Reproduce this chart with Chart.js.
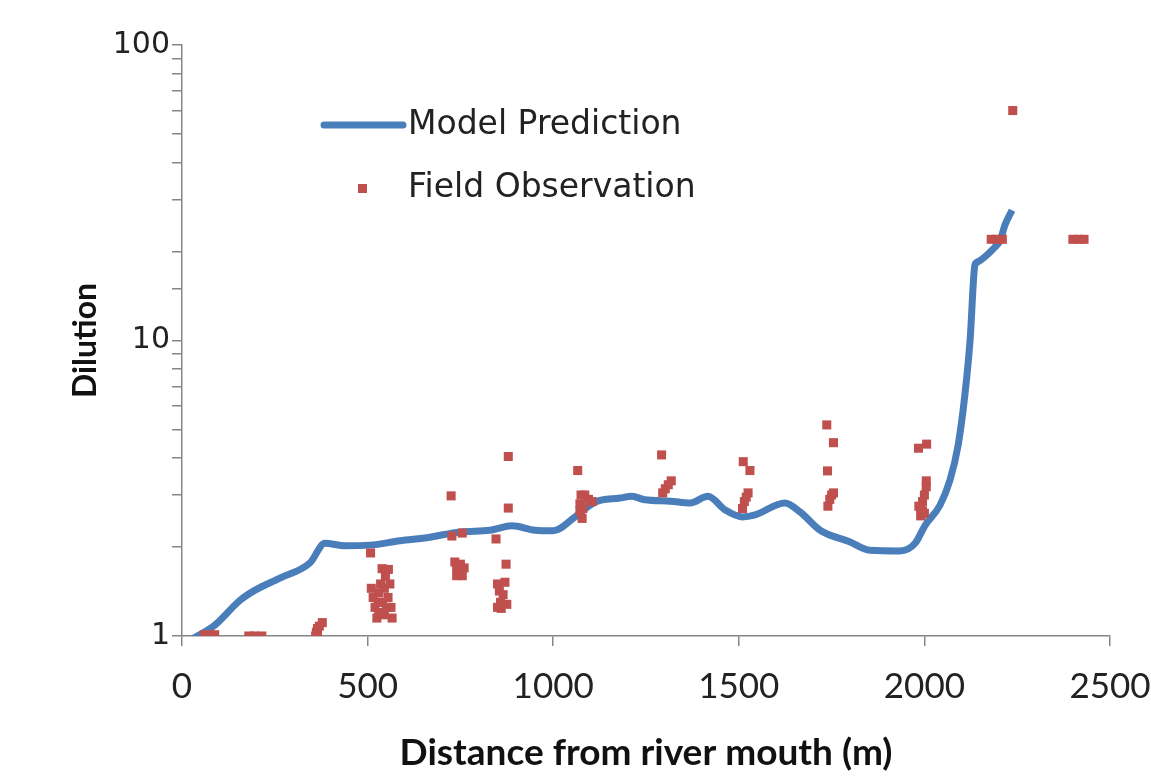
<!DOCTYPE html>
<html>
<head>
<meta charset="utf-8">
<script src="https://cdn.jsdelivr.net/npm/chart.js@4.4.1/dist/chart.umd.min.js"></script>
<style>
  html, body { margin: 0; padding: 0; background: #fff; }
  #wrap { width: 1151px; height: 778px; }
</style>
</head>
<body>
<div id="wrap"><canvas id="chart" width="1151" height="778"></canvas></div>
<script>
// Model prediction (distance m, dilution)
const modelX = [30, 89, 156, 197, 264, 345, 385, 439, 506, 587, 668, 749, 830, 889, 951, 1000,
    1059, 1113, 1180, 1212, 1247, 1315, 1369, 1417, 1463, 1509, 1544, 1624, 1665, 1719, 1800,
    1853, 1934, 1975, 2002, 2042, 2069, 2091, 2109, 2123, 2136, 2142, 2190, 2204, 2217, 2236];
const modelY = [0.98, 1.09, 1.32, 1.43, 1.57, 1.77, 2.06, 2.02, 2.03, 2.10, 2.16, 2.25, 2.28, 2.36, 2.28, 2.27,
    2.53, 2.84, 2.93, 2.97, 2.89, 2.86, 2.82, 2.97, 2.67, 2.53, 2.57, 2.82, 2.63, 2.28, 2.08,
    1.95, 1.94, 2.06, 2.37, 2.77, 3.37, 4.43, 6.54, 10.0, 18.0, 18.4, 20.7, 21.8, 24.6, 27.6];

// Field observations
const obsX = [60, 75, 88, 180, 195, 215, 360, 362, 365, 370, 378, 365,
    508, 510, 515, 520, 525, 530, 530, 535, 540, 545, 548, 550, 555, 556, 560, 563, 566, 545, 528, 539,
    725, 727, 755, 735, 740, 745, 750, 755, 760, 740,
    879, 879, 846, 873, 850, 870, 855, 865, 858, 875, 860, 850,
    1066, 1075, 1085, 1095, 1105, 1072, 1072, 1078, 1080,
    1292, 1295, 1302, 1310, 1318,
    1512, 1530, 1510, 1515, 1520, 1525,
    1737, 1755, 1739, 1740, 1745, 1750, 1755,
    1984, 2006, 1990, 1990, 1995, 2000, 2005, 2005, 2000, 1985, 1995,
    2238, 2180, 2195, 2210, 2400, 2415, 2430];
const obsY = [1.01, 1.01, 1.01, 1.0, 1.0, 1.0, 1.0, 1.03, 1.06, 1.08, 1.11, 1.01,
    1.91, 1.45, 1.35, 1.25, 1.15, 1.2, 1.4, 1.5, 1.3, 1.45, 1.6, 1.25, 1.35, 1.68, 1.5, 1.25, 1.15, 1.18, 1.3, 1.69,
    2.98, 2.18, 2.23, 1.78, 1.7, 1.65, 1.75, 1.6, 1.7, 1.6,
    4.05, 2.71, 2.13, 1.75, 1.5, 1.52, 1.42, 1.38, 1.3, 1.28, 1.24, 1.25,
    3.63, 3.0, 3.0, 2.9, 2.85, 2.8, 2.65, 2.5, 2.7,
    4.1, 3.05, 3.15, 3.25, 3.35,
    3.89, 3.63, 2.7, 2.85, 2.95, 3.05,
    5.18, 4.51, 3.62, 2.75, 2.9, 3.0, 3.05,
    4.32, 4.46, 2.55, 2.7, 2.85, 3.0, 3.2, 3.35, 2.6, 2.75, 2.65,
    60, 22, 22, 22, 22, 22, 22];

const xTicks = [0, 500, 1000, 1500, 2000, 2500];
const yLabels = [1, 10, 100];

const lineColor = '#4A7EBB';
const markColor = '#C0504D';
const axisColor = '#868686';

// Legend drawn inside the plot like the original
const insideLegend = {
    id: 'insideLegend',
    afterDraw(chart) {
        const ctx = chart.ctx;
        ctx.save();
        ctx.strokeStyle = lineColor;
        ctx.lineWidth = 7;
        ctx.lineCap = 'round';
        ctx.beginPath();
        ctx.moveTo(324, 125);
        ctx.lineTo(403, 125);
        ctx.stroke();
        ctx.fillStyle = markColor;
        ctx.fillRect(358, 184, 9, 9);
        ctx.fillStyle = '#222';
        ctx.font = '33px "DejaVu Sans"';
        ctx.textBaseline = 'middle';
        ctx.fillText(chart.data.datasets[0].label, 408, 125);
        ctx.fillText(chart.data.datasets[1].label, 408, 188);
        ctx.restore();
    }
};

new Chart(document.getElementById('chart'), {
    type: 'scatter',
    data: {
        datasets: [{
            label: 'Model Prediction',
            data: modelX.map((x, i) => ({ x: x, y: modelY[i] })),
            showLine: true,
            borderColor: lineColor,
            borderWidth: 7,
            pointRadius: 0,
            cubicInterpolationMode: 'monotone',
            order: 2
        }, {
            label: 'Field Observation',
            data: obsX.map((x, i) => ({ x: x, y: obsY[i] })),
            pointStyle: 'rect',
            pointRadius: 6.4,
            backgroundColor: markColor,
            borderWidth: 0,
            order: 1
        }]
    },
    options: {
        responsive: false,
        animation: false,
        layout: { padding: { top: 45, right: 41, left: 0, bottom: 0 } },
        plugins: {
            legend: { display: false },
            tooltip: { enabled: false }
        },
        scales: {
            x: {
                type: 'linear',
                min: 0,
                max: 2500,
                afterFit: s => { s.height = 142; s.paddingLeft = 0; s.paddingRight = 0; },
                afterBuildTicks: s => { s.ticks = xTicks.map(v => ({ value: v })); },
                grid: { display: true, drawOnChartArea: false, drawTicks: true, tickLength: 10, color: axisColor, lineWidth: 1.5 },
                border: { display: true, color: axisColor, width: 1.5 },
                ticks: { color: '#222', font: { family: 'Lato', size: 35 }, padding: 20, callback: v => String(v) },
                title: {
                    display: true,
                    text: 'Distance from river mouth (m)',
                    color: '#111',
                    font: { family: 'Lato', size: 37, weight: 'bold' },
                    padding: { top: 0, bottom: 3 }
                }
            },
            y: {
                type: 'logarithmic',
                min: 1,
                max: 100,
                afterFit: s => { s.width = 182; s.paddingTop = 0; s.paddingBottom = 0; },
                grid: { display: true, drawOnChartArea: false, drawTicks: true, tickLength: 10, color: axisColor, lineWidth: 1.5 },
                border: { display: true, color: axisColor, width: 1.5 },
                ticks: {
                    autoSkip: false,
                    color: '#222',
                    font: { family: 'DejaVu Sans', size: 30 },
                    padding: 2,
                    callback: v => yLabels.includes(v) ? String(v) : ''
                },
                title: {
                    display: true,
                    text: 'Dilution',
                    color: '#111',
                    font: { family: 'Lato', size: 32, weight: 'bold' },
                    padding: { top: 66, bottom: 0 }
                }
            }
        }
    },
    plugins: [insideLegend]
});
</script>
</body>
</html>
